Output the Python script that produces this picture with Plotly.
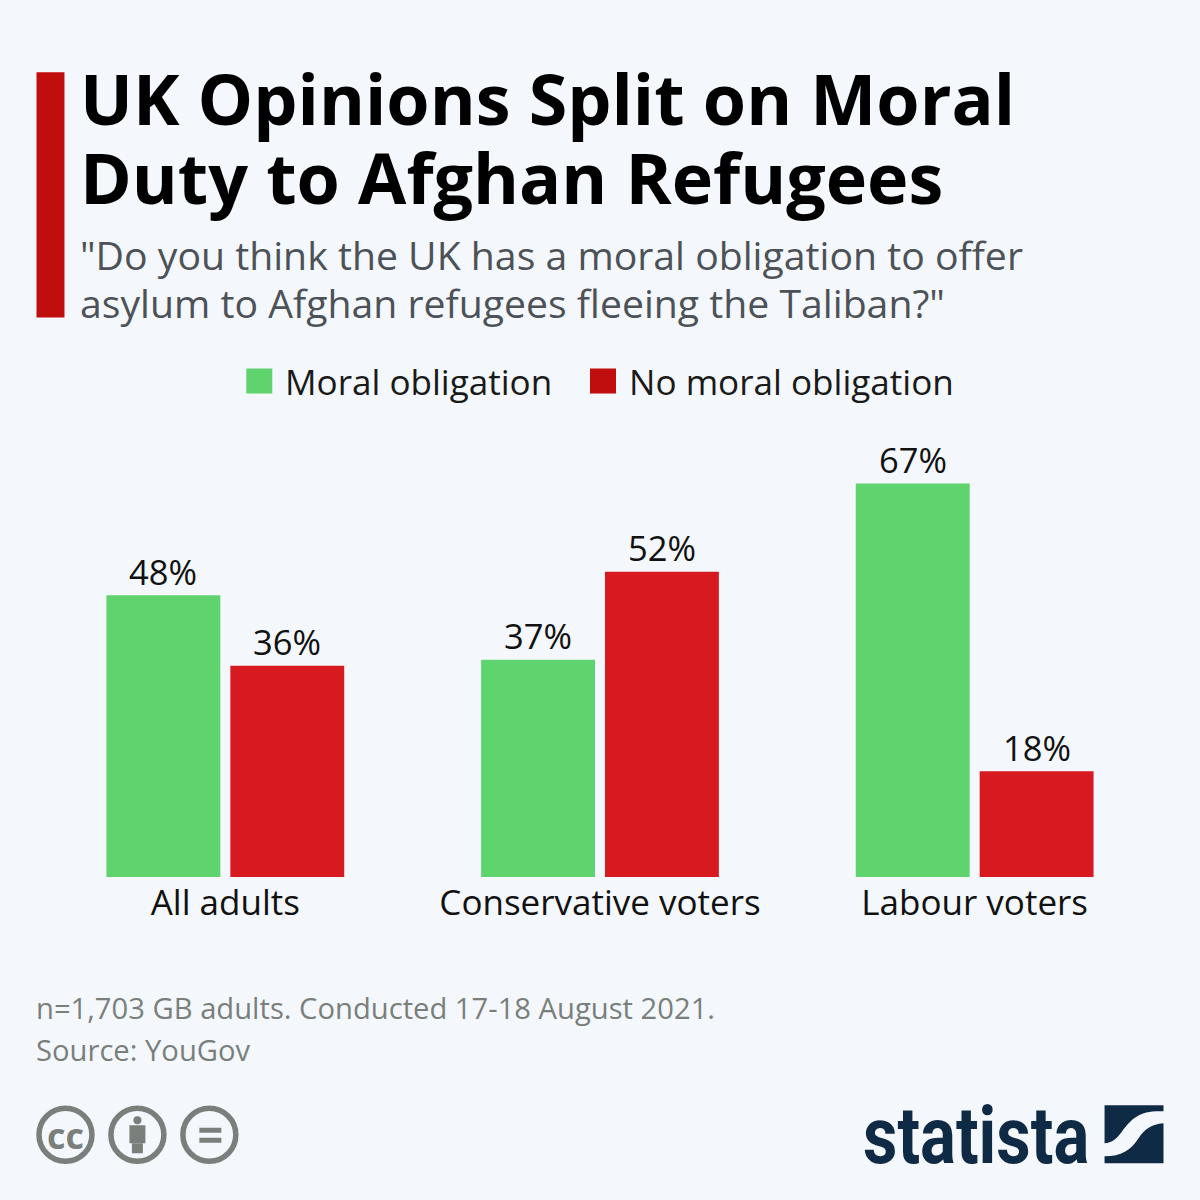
import plotly.graph_objects as go

categories = ["All adults", "Conservative voters", "Labour voters"]
moral = [48, 37, 67]
no_moral = [36, 52, 18]
series_names = ["Moral obligation", "No moral obligation"]
title_lines = ["UK Opinions Split on Moral", "Duty to Afghan Refugees"]
subtitle_lines = ['"Do you think the UK has a moral obligation to offer',
                  'asylum to Afghan refugees fleeing the Taliban?"']
note_lines = ["n=1,703 GB adults. Conducted 17-18 August 2021.", "Source: YouGov"]

GREEN = "#5fd46e"
RED = "#d71920"
DARKRED = "#c00d0d"
BG = "#f4f8fc"
FONT = "Open Sans"
S = 1200
PL, PR, PT, PB = 37.5, 1162.5, 466.4, 877.0


def px(x):
    return (x - PL) / (PR - PL)


def py(y):
    return (PB - y) / (PB - PT)


fig = go.Figure()
annotations = []
for name, vals, col, shift in [(series_names[0], moral, GREEN, -62), (series_names[1], no_moral, RED, 62)]:
    fig.add_bar(x=categories, y=vals, name=name, marker=dict(color=col, line=dict(width=0)), showlegend=False)
    for c, v in zip(categories, vals):
        annotations.append(dict(x=c, y=v, xref="x", yref="y", text=f"{v}%", showarrow=False,
                                xanchor="center", yanchor="middle", xshift=shift, yshift=24,
                                font=dict(family=FONT, size=34.5, color="#111111")))


def text(x, y, s, size, color, bold=False, anchor="left", family=FONT):
    annotations.append(dict(x=px(x), y=py(y), xref="paper", yref="paper", text=f"<b>{s}</b>" if bold else s,
                            showarrow=False, xanchor=anchor, yanchor="middle", align=anchor,
                            font=dict(family=family, size=size, color=color),
                            borderpad=0, borderwidth=0))


for i, t in enumerate(title_lines):
    text(80, 98.5 + i * 79, t, 70, "#000000", bold=True)
for i, t in enumerate(subtitle_lines):
    text(79.5, 255.5 + i * 48, t, 39.2, "#4c5257")
text(285, 381, series_names[0], 35.1, "#1a1a1a")
text(629.5, 381, series_names[1], 35.1, "#1a1a1a")
for i, t in enumerate(note_lines):
    text(35.5, 1008 + i * 42, t, 29.2, "#7a7f7c")
text(863, 1135, "statista", 67, "#0f2a44", bold=True, family="Roboto")
text(65, 1135, "cc", 36, "#7a7f7c", bold=True, anchor="center")

shapes = []


def rect(x0, y0, x1, y1, color):
    shapes.append(dict(type="rect", xref="paper", yref="paper", x0=px(x0), x1=px(x1), y0=py(y0), y1=py(y1),
                       fillcolor=color, line=dict(width=0), layer="above"))


def circle(cx, cy, r, color="#7a7f7c", w=5.5):
    shapes.append(dict(type="circle", xref="paper", yref="paper", x0=px(cx - r), x1=px(cx + r),
                       y0=py(cy + r), y1=py(cy - r), fillcolor="rgba(0,0,0,0)",
                       line=dict(width=w, color=color), layer="above"))


rect(36, 73, 64, 318, DARKRED)
rect(246, 369, 272, 394, GREEN)
rect(590, 369, 616, 394, DARKRED)

# licence icons
GREY = "#7a7f7c"
for cx in (65, 137, 209):
    circle(cx, 1134.5, 26.5)
rect(129, 1125, 145, 1143, GREY)
rect(131.5, 1143, 142.5, 1153, GREY)
shapes.append(dict(type="circle", xref="paper", yref="paper", x0=px(133), x1=px(141), y0=py(1124), y1=py(1116),
                   fillcolor=GREY, line=dict(width=0), layer="above"))
rect(199, 1127.5, 221, 1132.5, GREY)
rect(199, 1137.5, 221, 1142.5, GREY)


# statista mark
def P(x, y):
    return f"{px(x)},{py(y)}"


NAVY = "#0f2a44"
mark1 = ("M" + P(1105, 1105) + " L" + P(1164, 1105) + " L" + P(1164, 1111)
         + " C" + P(1140, 1110) + " " + P(1133, 1118) + " " + P(1124, 1129)
         + " C" + P(1118, 1138) + " " + P(1112, 1143) + " " + P(1105, 1143) + " Z")
mark2 = ("M" + P(1164, 1123) + " L" + P(1164, 1163) + " L" + P(1105, 1163) + " L" + P(1105, 1156)
         + " C" + P(1122, 1156) + " " + P(1131, 1150) + " " + P(1139, 1138)
         + " C" + P(1145, 1129) + " " + P(1152, 1124) + " " + P(1164, 1123) + " Z")
for p in (mark1, mark2):
    shapes.append(dict(type="path", xref="paper", yref="paper", path=p, fillcolor=NAVY, line=dict(width=0),
                       layer="above"))

fig.update_layout(
    width=S, height=S, autosize=False, paper_bgcolor=BG, plot_bgcolor=BG,
    margin=dict(l=PL, r=S - PR, t=PT, b=S - PB), barmode="group", bargap=0.3387, bargroupgap=0.0806,
    showlegend=False, annotations=annotations, shapes=shapes,
    xaxis=dict(showgrid=False, zeroline=False, showline=False, ticks="", automargin=False,
               ticklabelstandoff=2, tickfont=dict(family=FONT, size=35, color="#111111")),
    yaxis=dict(range=[0, 70], visible=False, fixedrange=True, automargin=False),
)
post = """
document.body.style.margin='0';
document.documentElement.style.background='%s';
document.querySelectorAll('.annotation-text').forEach(function(t){
  if(t.textContent==='statista'){
    t.style.transformBox='fill-box';
    t.style.transformOrigin='left center';
    t.style.transform='scaleY(1.2)';
  }
});
""" % BG
fig.write_html("out.html", config={"displayModeBar": False}, post_script=post)
